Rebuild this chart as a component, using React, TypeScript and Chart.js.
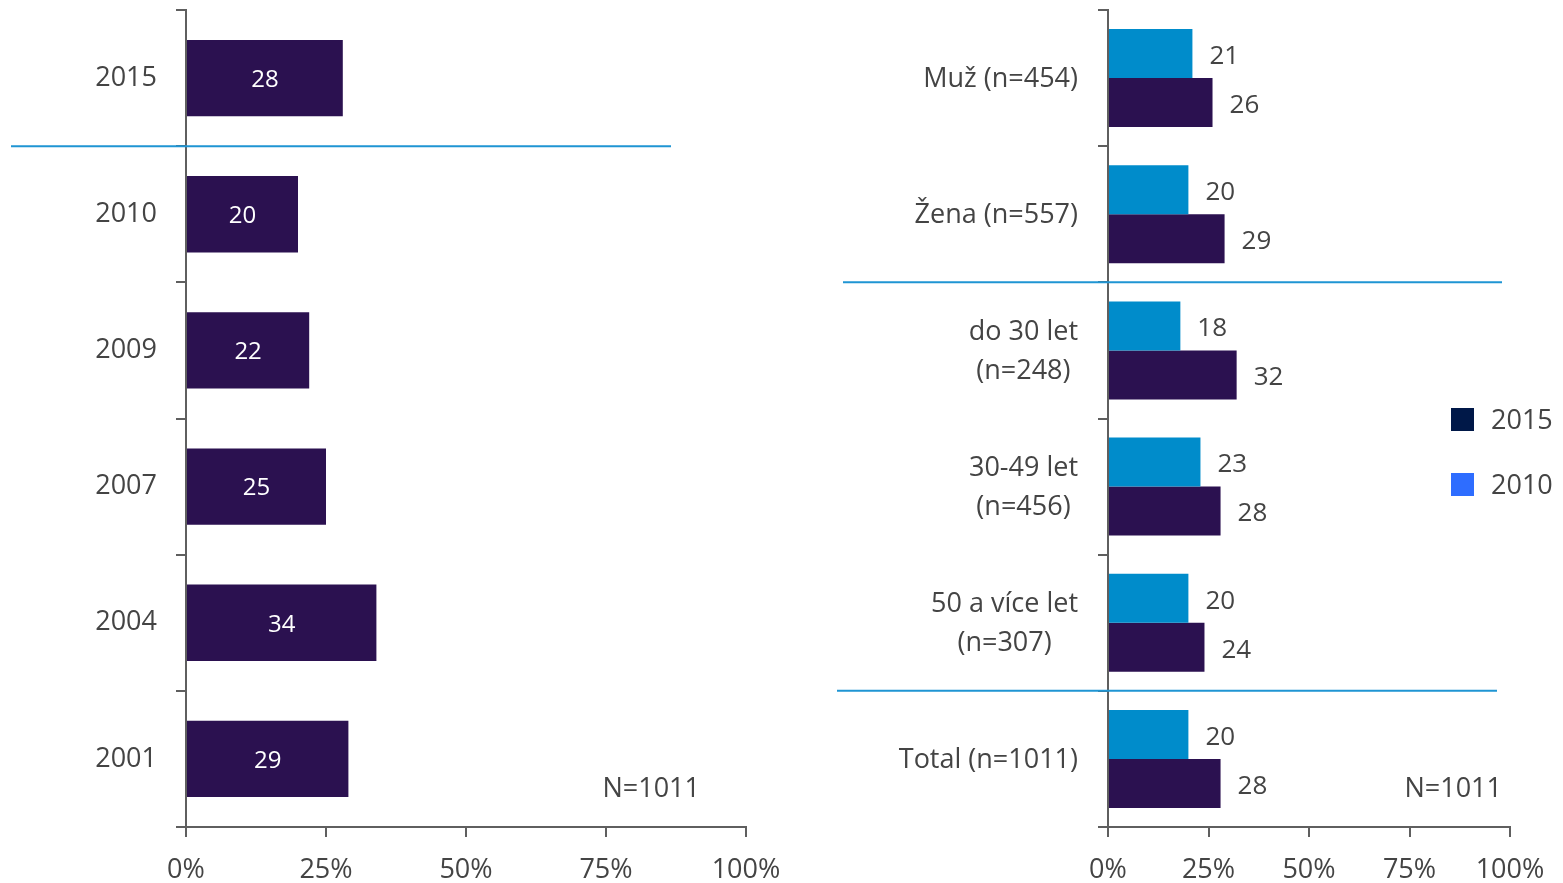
import React, { useEffect, useRef } from "react";
import { Chart, registerables } from "chart.js";

Chart.register(...registerables);

const yearCategories = ["2015", "2010", "2009", "2007", "2004", "2001"];
const yearValues = [28, 20, 22, 25, 34, 29];

const groupCategories = [
  ["Muž (n=454)"],
  ["Žena (n=557)"],
  ["do 30 let", "(n=248)"],
  ["30-49 let", "(n=456)"],
  ["50 a více let", "(n=307)"],
  ["Total (n=1011)"],
];
const values2010 = [21, 20, 18, 23, 20, 20];
const values2015 = [26, 29, 32, 28, 24, 28];

const xTickValues = [0, 25, 50, 75, 100];
const sampleNote = "N=1011";
const legendLabels = ["2015", "2010"];

const FONT = "'Open Sans', Lato, sans-serif";
const TEXT = "#444444";
const AXIS = "#5f5f5f";
const DARK = "#2B1150";
const BLUE = "#008CCB";
const SEP = "#1F95D3";
const LEG_DARK = "#001848";
const LEG_BLUE = "#2E6DFF";

function xScale() {
  return {
    type: "linear" as const,
    min: 0,
    max: 100,
    afterBuildTicks: (s: any) => {
      s.ticks = xTickValues.map((v) => ({ value: v }));
    },
    ticks: {
      callback: (v: any) => v + "%",
      color: TEXT,
      font: { family: FONT, size: 27 },
      padding: 17,
      maxRotation: 0,
      autoSkip: false,
    },
    grid: { drawOnChartArea: false, drawTicks: true, tickLength: 10, color: AXIS, lineWidth: 2 },
    border: { color: AXIS, width: 2 },
    afterFit: (s: any) => {
      s.height = 56;
      s.paddingLeft = 0;
      s.paddingRight = 0;
    },
  };
}

function yScaleBase(width: number, showTicks: boolean) {
  return {
    ticks: showTicks
      ? { color: TEXT, font: { family: FONT, size: 27 }, padding: 19 }
      : { display: false },
    grid: { drawOnChartArea: false, drawTicks: true, tickLength: 10, color: AXIS, lineWidth: 2, offset: true },
    border: { color: AXIS, width: 2 },
    afterFit: (s: any) => {
      s.width = width;
      s.paddingTop = 0;
      s.paddingBottom = 0;
    },
  };
}

export default function App() {
  const leftRef = useRef<HTMLCanvasElement>(null);
  const rightRef = useRef<HTMLCanvasElement>(null);

  useEffect(() => {
    const leftPlugin = {
      id: "leftExtras",
      afterDatasetsDraw(chart: any) {
        const ctx = chart.ctx;
        const meta = chart.getDatasetMeta(0);
        ctx.save();
        ctx.fillStyle = "#ffffff";
        ctx.font = `24px ${FONT}`;
        ctx.textAlign = "center";
        ctx.textBaseline = "middle";
        meta.data.forEach((el: any, i: number) => {
          ctx.fillText(String(yearValues[i]), (el.x + el.base) / 2, el.y + 2);
        });
        ctx.restore();
      },
      afterDraw(chart: any) {
        const ctx = chart.ctx;
        const y = chart.scales.y;
        const ca = chart.chartArea;
        ctx.save();
        const sy = (y.getPixelForValue(0) + y.getPixelForValue(1)) / 2;
        ctx.strokeStyle = SEP;
        ctx.lineWidth = 2;
        ctx.beginPath();
        ctx.moveTo(11, sy);
        ctx.lineTo(671, sy);
        ctx.stroke();
        ctx.fillStyle = TEXT;
        ctx.font = `27px ${FONT}`;
        ctx.textAlign = "right";
        ctx.textBaseline = "middle";
        ctx.fillText(sampleNote, ca.right - 46, 789);
        ctx.restore();
      },
    };

    const left = new Chart(leftRef.current!, {
      type: "bar",
      data: {
        labels: yearCategories,
        datasets: [
          {
            label: "2015",
            data: yearValues,
            backgroundColor: DARK,
            barPercentage: 0.56,
            categoryPercentage: 1,
          },
        ],
      },
      options: {
        indexAxis: "y",
        animation: false,
        responsive: false,
        maintainAspectRatio: false,
        layout: { padding: { top: 10, right: 40, left: 0, bottom: 0 } },
        plugins: { legend: { display: false }, tooltip: { enabled: false } },
        scales: {
          x: xScale() as any,
          y: yScaleBase(186, true) as any,
        },
      },
      plugins: [leftPlugin],
    });

    const rightPlugin = {
      id: "rightExtras",
      afterDatasetsDraw(chart: any) {
        const ctx = chart.ctx;
        ctx.save();
        ctx.fillStyle = TEXT;
        ctx.font = `26px ${FONT}`;
        ctx.textAlign = "left";
        ctx.textBaseline = "middle";
        [values2010, values2015].forEach((vals, d) => {
          const meta = chart.getDatasetMeta(d);
          meta.data.forEach((el: any, i: number) => {
            ctx.fillText(String(vals[i]), el.x + 17, el.y + 3);
          });
        });
        ctx.restore();
      },
      afterDraw(chart: any) {
        const ctx = chart.ctx;
        const y = chart.scales.y;
        const ca = chart.chartArea;
        ctx.save();
        ctx.fillStyle = TEXT;
        ctx.font = `27px ${FONT}`;
        ctx.textAlign = "center";
        ctx.textBaseline = "middle";
        const rightEdge = ca.left - 30;
        const lh = 39;
        groupCategories.forEach((lines, i) => {
          const cy = y.getPixelForValue(i);
          const w = Math.max(...lines.map((l) => ctx.measureText(l).width));
          const cx = rightEdge - w / 2;
          lines.forEach((l, k) => {
            ctx.fillText(l, cx, cy + 1 + (k - (lines.length - 1) / 2) * lh);
          });
        });
        ctx.strokeStyle = SEP;
        ctx.lineWidth = 2;
        const s1 = (y.getPixelForValue(1) + y.getPixelForValue(2)) / 2;
        const s2 = (y.getPixelForValue(4) + y.getPixelForValue(5)) / 2;
        ctx.beginPath();
        ctx.moveTo(53, s1);
        ctx.lineTo(712, s1);
        ctx.moveTo(47, s2);
        ctx.lineTo(707, s2);
        ctx.stroke();
        ctx.textAlign = "right";
        ctx.fillText(sampleNote, ca.right - 8, 789);
        ctx.restore();
      },
    };

    const right = new Chart(rightRef.current!, {
      type: "bar",
      data: {
        labels: groupCategories,
        datasets: [
          {
            label: "2010",
            data: values2010,
            backgroundColor: BLUE,
            barPercentage: 1,
            categoryPercentage: 0.72,
          },
          {
            label: "2015",
            data: values2015,
            backgroundColor: DARK,
            barPercentage: 1,
            categoryPercentage: 0.72,
          },
        ],
      },
      options: {
        indexAxis: "y",
        animation: false,
        responsive: false,
        maintainAspectRatio: false,
        layout: { padding: { top: 10, right: 53, left: 0, bottom: 0 } },
        plugins: { legend: { display: false }, tooltip: { enabled: false } },
        scales: {
          x: xScale() as any,
          y: yScaleBase(318, false) as any,
        },
      },
      plugins: [rightPlugin],
    });

    return () => {
      left.destroy();
      right.destroy();
    };
  }, []);

  const legendColors = [LEG_DARK, LEG_BLUE];

  return (
    <div style={{ position: "absolute", left: 0, top: 0, width: 1563, height: 883, background: "#fff", overflow: "hidden" }}>
      <canvas ref={leftRef} width={786} height={883} style={{ position: "absolute", left: 0, top: 0, width: 786, height: 883 }} />
      <canvas ref={rightRef} width={773} height={883} style={{ position: "absolute", left: 790, top: 0, width: 773, height: 883 }} />
      {legendLabels.map((lab, i) => (
        <div key={lab} style={{ position: "absolute", left: 1451, top: 404 + i * 65, height: 30, display: "flex", alignItems: "center" }}>
          <div style={{ width: 23, height: 23, background: legendColors[i] }} />
          <span style={{ marginLeft: 17, fontFamily: FONT, fontSize: 27, color: TEXT, lineHeight: "30px" }}>{lab}</span>
        </div>
      ))}
    </div>
  );
}
